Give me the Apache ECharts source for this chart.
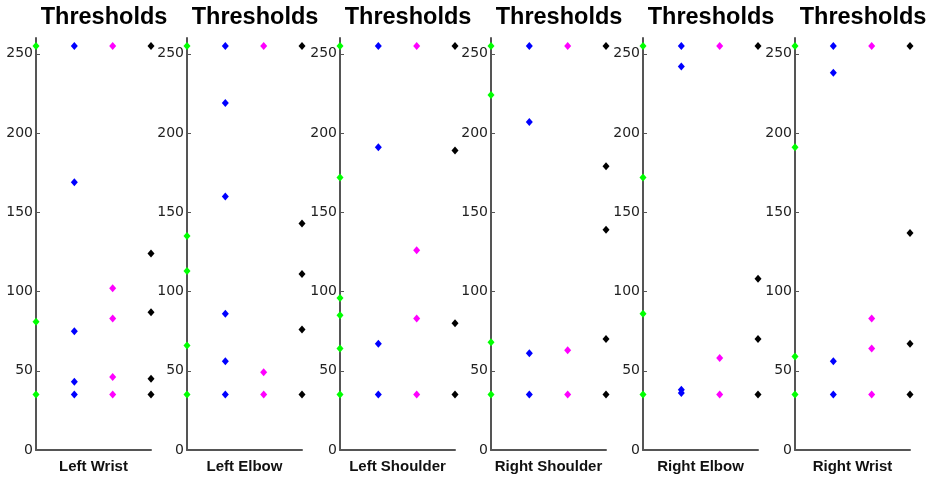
<!DOCTYPE html>
<html>
<head>
<meta charset="utf-8">
<script src="https://cdn.jsdelivr.net/npm/echarts@6/dist/echarts.min.js"></script>
<style>html,body{margin:0;padding:0;background:#fff}#c{width:931px;height:479px}</style>
</head>
<body>
<div id="c"></div>
<script>
const joints = ['Left Wrist', 'Left Elbow', 'Left Shoulder', 'Right Shoulder', 'Right Elbow', 'Right Wrist'];
const panelTitle = 'Thresholds';
const yTicks = [0, 50, 100, 150, 200, 250];
const xPositions = [0, 1, 2, 3];
const greenVals = [
  [255, 81, 35],
  [255, 135, 113, 66, 35],
  [255, 172, 96, 85, 64, 35],
  [255, 224, 68, 35],
  [255, 172, 86, 35],
  [255, 191, 59, 35]
];
const blueVals = [
  [255, 169, 75, 43, 35],
  [255, 219, 160, 86, 56, 35],
  [255, 191, 67, 35],
  [255, 207, 61, 35],
  [255, 242, 38, 36],
  [255, 238, 56, 35]
];
const magentaVals = [
  [255, 102, 83, 46, 35],
  [255, 49, 35],
  [255, 126, 83, 35],
  [255, 63, 35],
  [255, 58, 35],
  [255, 83, 64, 35]
];
const blackVals = [
  [255, 124, 87, 45, 35],
  [255, 143, 111, 76, 35],
  [255, 189, 80, 35],
  [255, 179, 139, 70, 35],
  [255, 108, 70, 35],
  [255, 137, 67, 35]
];

const groups = [
  { vals: greenVals, color: '#00ff00' },
  { vals: blueVals, color: '#0000ff' },
  { vals: magentaVals, color: '#ff00ff' },
  { vals: blackVals, color: '#000000' }
];

const lefts = [36, 187, 340, 491, 643, 795];
const gw = 115;
const chart = echarts.init(document.getElementById('c'));
const option = {
  animation: false,
  backgroundColor: '#fff',
  title: [], grid: [], xAxis: [], yAxis: [], series: []
};
joints.forEach((j, i) => {
  option.title.push({
    text: panelTitle, left: lefts[i] + 63, top: 1, textAlign: 'center',
    textStyle: { fontFamily: 'Liberation Sans, Arial', fontWeight: 'bold', fontSize: 23.5, color: '#000' }
  });
  option.grid.push({ left: lefts[i], width: gw, top: 38, bottom: 28.5, containLabel: false });
  option.xAxis.push({
    type: 'value', gridIndex: i, min: 0, max: 3,
    name: j, nameLocation: 'middle', nameGap: 9,
    nameTextStyle: { fontFamily: 'Liberation Sans, Arial', fontWeight: 'bold', fontSize: 15, color: '#111', verticalAlign: 'top' },
    axisLine: { show: true, onZero: false, lineStyle: { color: '#555', width: 2 } },
    axisTick: { show: false }, axisLabel: { show: false }, splitLine: { show: false }
  });
  option.yAxis.push({
    type: 'value', gridIndex: i, min: 0, max: 260, interval: 50,
    axisLine: { show: true, onZero: false, lineStyle: { color: '#555', width: 2 } },
    axisTick: { show: true, inside: true, length: 4, customValues: yTicks, lineStyle: { color: '#555', width: 1 } },
    axisLabel: { show: true, margin: 3, customValues: yTicks, fontFamily: 'DejaVu Sans', fontSize: 14, color: '#222' },
    splitLine: { show: false }
  });
  groups.forEach((g, k) => {
    option.series.push({
      type: 'scatter', xAxisIndex: i, yAxisIndex: i, clip: false,
      symbol: 'diamond', symbolSize: [7, 8],
      itemStyle: { color: g.color, opacity: 1 },
      data: g.vals[i].map(v => [xPositions[k], v])
    });
  });
});
chart.setOption(option);
</script>
</body>
</html>
